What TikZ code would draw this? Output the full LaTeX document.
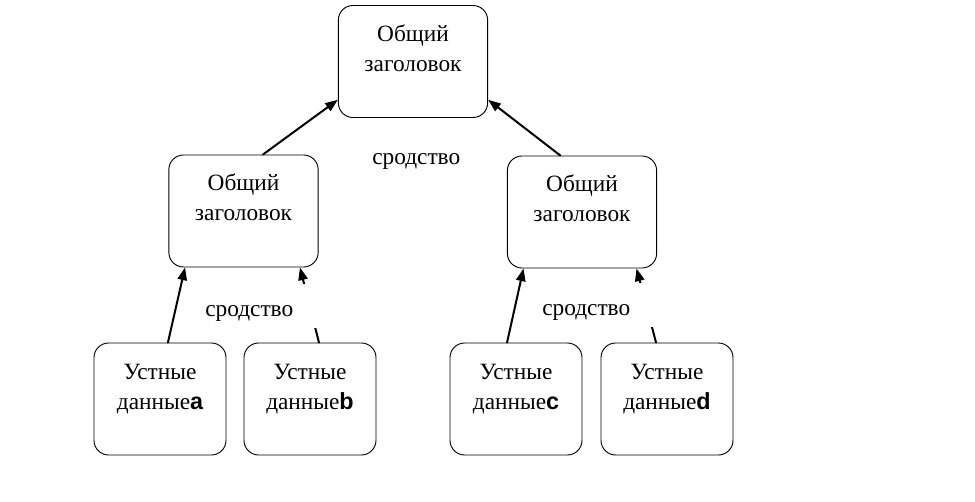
\documentclass[tikz,border=0pt]{standalone}
\usepackage{fontspec}
\setmainfont{Liberation Serif}
\newfontfamily\sansletter{Liberation Sans}
\usetikzlibrary{arrows.meta}
\newcommand{\datum}[1]{{\sansletter\bfseries #1}}

\begin{document}
\begin{tikzpicture}[x=0.75pt, y=-0.75pt, line cap=round, line join=round,
    >={Triangle[length=9.5pt, width=7pt]},
    header/.style={draw, line width=0.7pt, rounded corners=11pt, inner sep=0pt,
        text width=112pt, align=center, text height=27pt, text depth=57pt,
        font=\fontsize{17.5}{22.5}\selectfont},
    datum/.style={header, text width=99pt},
    link/.style={->, line width=1.5pt},
    kinship/.style={fill=white, inner sep=0pt, text width=96pt, align=left,
        text height=25pt, text depth=8pt, anchor=base west,
        font=\fontsize{17.5}{22.5}\selectfont}]

    \useasboundingbox (0,0) rectangle (975,502);

    % Headers
    \node[header] (head) at (413,61.5) {Общий\\заголовок};
    \node[header] (headL) at (243.5,211) {Общий\\заголовок};
    \node[header] (headR) at (582,212) {Общий\\заголовок};

    % Oral data
    \node[datum] (dataA) at (160,399) {Устные\\данные\datum{a}};
    \node[datum] (dataB) at (310,399) {Устные\\данные\datum{b}};
    \node[datum] (dataC) at (516,399) {Устные\\данные\datum{c}};
    \node[datum] (dataD) at (667,399) {Устные\\данные\datum{d}};

    % Links
    \draw[link] (headL.71) -- (head.207);
    \draw[link] (headR.111) -- (head.333);
    \draw[link] (dataA.82) -- (headL.224);
    \draw[link] (dataB.81) -- (headL.315);
    \draw[link] (dataC.99) -- (headR.224.5);
    \draw[link] (dataD.101) -- (headR.314.5);

    % Kinship labels (white boxes over the lines)
    \node[kinship] (relTop) at (372,165) {сродство};
    \node[kinship] (relL) at (205,317) {сродство};
    \node[kinship] (relR) at (542,316) {сродство};
\end{tikzpicture}
\end{document}
